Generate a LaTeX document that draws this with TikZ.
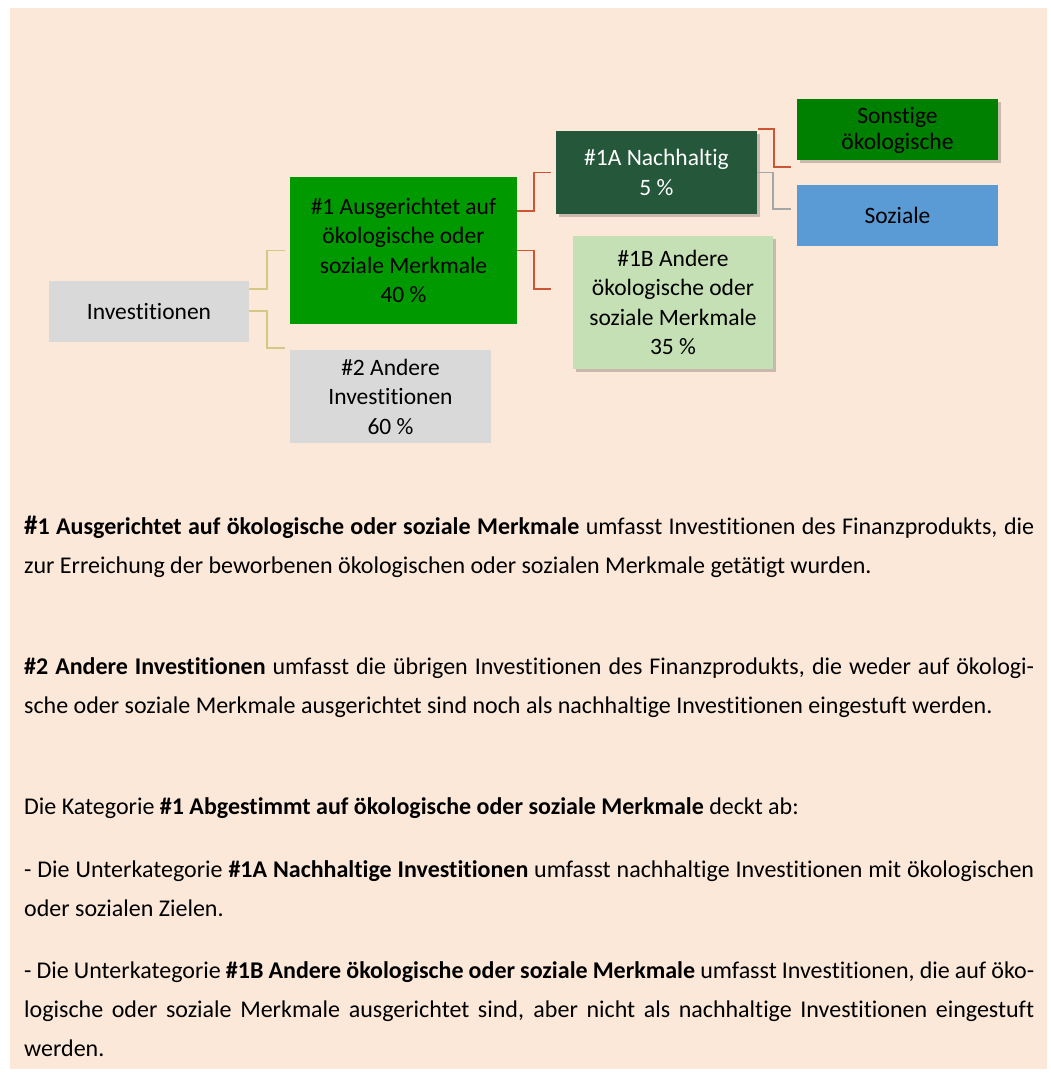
\documentclass[tikz,border=0pt]{standalone}
\usepackage{fontspec}
\setmainfont{Carlito}[Ligatures=NoCommon]
\usetikzlibrary{shadows,calc}
\definecolor{bgc}{RGB}{251,232,216}
\definecolor{greyb}{RGB}{217,217,217}
\definecolor{greenA}{RGB}{0,153,0}
\definecolor{darkg}{RGB}{37,87,59}
\definecolor{lightg}{RGB}{197,224,180}
\definecolor{greenS}{RGB}{0,128,0}
\definecolor{blueS}{RGB}{91,155,213}
\definecolor{tanl}{RGB}{214,200,130}
\definecolor{redl}{RGB}{205,85,50}
\definecolor{greyl}{RGB}{166,166,166}
\newcommand\jline[1]{\hbox to 1010pt{#1}}
\newcommand\bodyfont{\fontsize{24}{39}\selectfont}
\begin{document}
\begin{tikzpicture}[x=1pt,y=-1pt,
  box/.style={draw=none,inner sep=0pt,align=center,font=\fontsize{23.5}{29.5}\selectfont,text=black},
  shad/.style={drop shadow={shadow xshift=2.5pt,shadow yshift=-3pt,opacity=0.2,fill=black}},
  tanc/.style={draw=tanl,line width=1.8pt},
  redc/.style={draw=redl,line width=1.8pt},
  greyc/.style={draw=greyl,line width=1.5pt},
  bodyl/.style={anchor=base west,inner sep=0pt,font=\bodyfont}]
\useasboundingbox (0,0) rectangle (1051,1077);
\fill[white] (0,0) rectangle (1051,1077);
\fill[bgc] (10,8) rectangle (1047,1069);
% nodes
\node[box,fill=greyb,minimum width=200pt,minimum height=61pt] (inv) at (149,311) {Investitionen};
\node[box,fill=greenA,minimum width=227pt,minimum height=147pt] (a1) at (403.5,250.5) {\#1 Ausgerichtet auf\\ökologische oder\\soziale Merkmale\\40 \%};
\node[box,fill=greyb,minimum width=201pt,minimum height=93pt] (a2) at (390.5,396.5) {\#2 Andere\\Investitionen\\60 \%};
\node[box,shad,fill=darkg,text=white,minimum width=201pt,minimum height=83pt] (a1A) at (656.5,172.5) {\#1A Nachhaltig\\5 \%};
\node[box,shad,fill=lightg,minimum width=200pt,minimum height=133pt] (a1B) at (673,302.5) {\#1B Andere\\ökologische oder\\soziale Merkmale\\35 \%};
\node[box,shad,fill=greenS,minimum width=201pt,minimum height=61pt] (son) at (897.5,129) {};
\node[box,font=\fontsize{23.5}{26.5}\selectfont] (sonT) at ([yshift=-1.5pt]son.center) {Sonstige\\ökologische};
\node[box,fill=blueS,minimum width=201pt,minimum height=61pt] (soz) at (897.5,215.5) {Soziale};
% connectors
\draw[tanc] ([yshift=22pt]inv.east) -- ++(18,0) |- ([xshift=-5pt]a1.west);
\draw[tanc] (inv.east) -- ++(18,0) |- ([xshift=-5pt,yshift=2pt]a2.north west);
\draw[redc] ([yshift=39.5pt]a1.east) -- ++(17,0) |- ([xshift=-5pt]a1A.west);
\draw[redc] (a1.east) -- ++(17,0) |- ([xshift=-22pt,yshift=13.5pt]a1B.west);
\draw[redc] ([xshift=1pt,yshift=2pt]a1A.north east) -- ++(16,0) |- ([xshift=-6pt,yshift=-7pt]son.south west);
\draw[greyc] (a1A.east) -- ++(16,0) |- ([xshift=-6pt,yshift=6.5pt]soz.west);
% body text
\node[bodyl] (p1a) at (24,534) {\jline{\textbf{{\fontsize{27}{39}\selectfont\#}1 Ausgerichtet auf ökologische oder soziale Merkmale} umfasst Investitionen des Finanzprodukts, die}};
\node[bodyl] (p1b) at (24,573) {zur Erreichung der beworbenen ökologischen oder sozialen Merkmale getätigt wurden.};
\node[bodyl] (p2a) at (24,674) {\jline{\textbf{\#2 Andere Investitionen} umfasst die übrigen Investitionen des Finanzprodukts, die weder auf ökologi-}};
\node[bodyl] (p2b) at (24,713) {sche oder soziale Merkmale ausgerichtet sind noch als nachhaltige Investitionen eingestuft werden.};
\node[bodyl] (p3) at (24,814) {Die Kategorie \textbf{\#1 Abgestimmt auf ökologische oder soziale Merkmale} deckt ab:};
\node[bodyl] (p4a) at (24,877) {\jline{- Die Unterkategorie \textbf{\#1A Nachhaltige Investitionen} umfasst nachhaltige Investitionen mit ökologischen}};
\node[bodyl] (p4b) at (24,916) {oder sozialen Zielen.};
\node[bodyl] (p5a) at (24,978) {\jline{- Die Unterkategorie \textbf{\#1B Andere ökologische oder soziale Merkmale} umfasst Investitionen, die auf öko-}};
\node[bodyl] (p5b) at (24,1017) {\jline{logische oder soziale Merkmale ausgerichtet sind, aber nicht als nachhaltige Investitionen eingestuft}};
\node[bodyl] (p5c) at (24,1056) {werden.};
\end{tikzpicture}
\end{document}
